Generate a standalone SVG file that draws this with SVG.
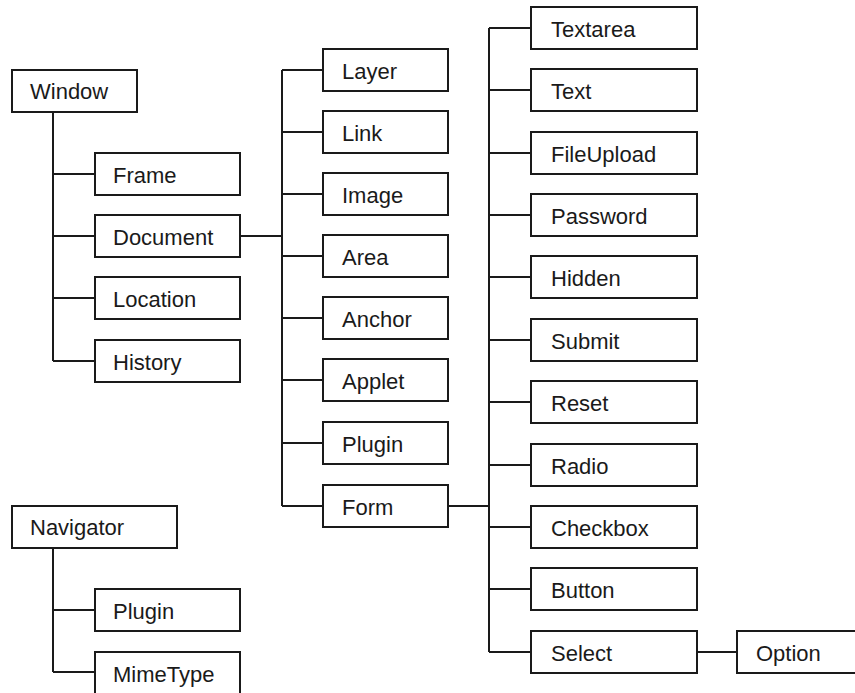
<svg xmlns="http://www.w3.org/2000/svg" width="855" height="693" viewBox="0 0 855 693">
  <style>
    .box rect { fill: #ffffff; stroke: #1a1a1a; stroke-width: 2; }
    .box text { font-family: "Liberation Sans", Arial, sans-serif; font-size: 22px; fill: #1a1a1a; }
    .links path { fill: none; stroke: #1a1a1a; stroke-width: 2; }
  </style>
  <rect width="855" height="693" fill="#ffffff"/>

  <!-- connectors -->
  <g class="links">
    <!-- Window tree -->
    <path d="M53 112 V361 M53 174 H95 M53 236 H95 M53 298 H95 M53 361 H95"/>
    <!-- Document to its children -->
    <path d="M240 236 H282 M282 70 V506 M282 70 H323 M282 132 H323 M282 194 H323 M282 256 H323 M282 318 H323 M282 380 H323 M282 443 H323 M282 506 H323"/>
    <!-- Form to its elements -->
    <path d="M448 506 H489 M489 28 V652 M489 28 H531 M489 90 H531 M489 153 H531 M489 215 H531 M489 277 H531 M489 340 H531 M489 402 H531 M489 465 H531 M489 527 H531 M489 589 H531 M489 652 H531"/>
    <!-- Select to Option -->
    <path d="M697 652 H737"/>
    <!-- Navigator tree -->
    <path d="M53 548 V672 M53 610 H95 M53 672 H95"/>
  </g>

  <!-- top-level objects -->
  <g id="window" class="box"><rect x="12" y="70" width="125" height="42"/><text x="30" y="99">Window</text></g>
  <g id="navigator" class="box"><rect x="12" y="506" width="165" height="42"/><text x="30" y="535">Navigator</text></g>

  <!-- Window children -->
  <g id="frame" class="box"><rect x="95" y="153" width="145" height="42"/><text x="113" y="183">Frame</text></g>
  <g id="document" class="box"><rect x="95" y="215" width="145" height="42"/><text x="113" y="245">Document</text></g>
  <g id="location" class="box"><rect x="95" y="277" width="145" height="42"/><text x="113" y="307">Location</text></g>
  <g id="history" class="box"><rect x="95" y="340" width="145" height="42"/><text x="113" y="370">History</text></g>

  <!-- Navigator children -->
  <g id="nav-plugin" class="box"><rect x="95" y="589" width="145" height="42"/><text x="113" y="619">Plugin</text></g>
  <g id="mimetype" class="box"><rect x="95" y="652" width="145" height="50"/><text x="113" y="682">MimeType</text></g>

  <!-- Document children -->
  <g id="layer" class="box"><rect x="323" y="49" width="125" height="42"/><text x="342" y="79">Layer</text></g>
  <g id="link" class="box"><rect x="323" y="111" width="125" height="42"/><text x="342" y="141">Link</text></g>
  <g id="image" class="box"><rect x="323" y="173" width="125" height="42"/><text x="342" y="203">Image</text></g>
  <g id="area" class="box"><rect x="323" y="235" width="125" height="42"/><text x="342" y="265">Area</text></g>
  <g id="anchor" class="box"><rect x="323" y="297" width="125" height="42"/><text x="342" y="327">Anchor</text></g>
  <g id="applet" class="box"><rect x="323" y="359" width="125" height="42"/><text x="342" y="389">Applet</text></g>
  <g id="doc-plugin" class="box"><rect x="323" y="422" width="125" height="42"/><text x="342" y="452">Plugin</text></g>
  <g id="form" class="box"><rect x="323" y="485" width="125" height="42"/><text x="342" y="515">Form</text></g>

  <!-- Form elements -->
  <g id="textarea" class="box"><rect x="531" y="7" width="166" height="42"/><text x="551" y="37">Textarea</text></g>
  <g id="text" class="box"><rect x="531" y="69" width="166" height="42"/><text x="551" y="99">Text</text></g>
  <g id="fileupload" class="box"><rect x="531" y="132" width="166" height="42"/><text x="551" y="162">FileUpload</text></g>
  <g id="password" class="box"><rect x="531" y="194" width="166" height="42"/><text x="551" y="224">Password</text></g>
  <g id="hidden" class="box"><rect x="531" y="256" width="166" height="42"/><text x="551" y="286">Hidden</text></g>
  <g id="submit" class="box"><rect x="531" y="319" width="166" height="42"/><text x="551" y="349">Submit</text></g>
  <g id="reset" class="box"><rect x="531" y="381" width="166" height="42"/><text x="551" y="411">Reset</text></g>
  <g id="radio" class="box"><rect x="531" y="444" width="166" height="42"/><text x="551" y="474">Radio</text></g>
  <g id="checkbox" class="box"><rect x="531" y="506" width="166" height="42"/><text x="551" y="536">Checkbox</text></g>
  <g id="button" class="box"><rect x="531" y="568" width="166" height="42"/><text x="551" y="598">Button</text></g>
  <g id="select" class="box"><rect x="531" y="631" width="166" height="42"/><text x="551" y="661">Select</text></g>

  <!-- Select child -->
  <g id="option" class="box"><rect x="737" y="631" width="130" height="42"/><text x="756" y="661">Option</text></g>
</svg>
